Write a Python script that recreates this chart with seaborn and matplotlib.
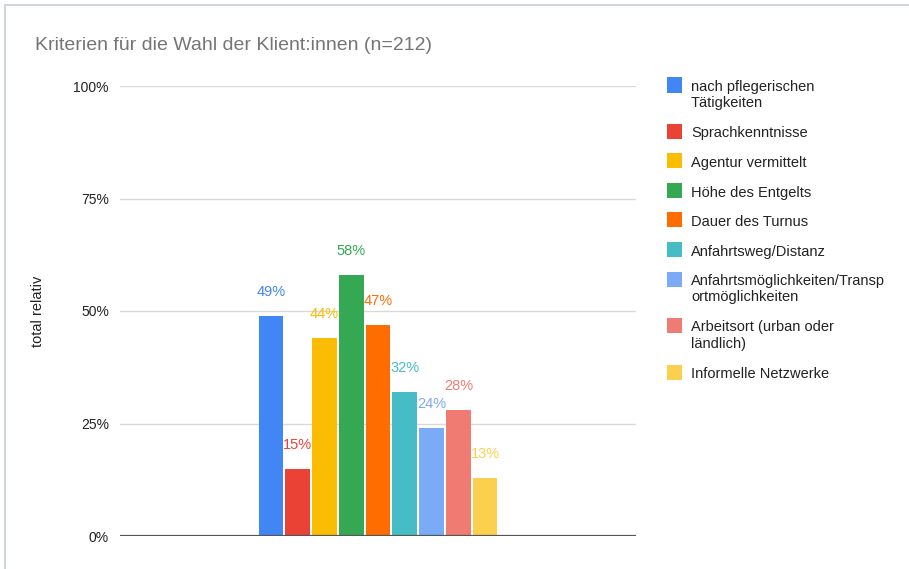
import matplotlib
matplotlib.use("Agg")
import matplotlib.pyplot as plt
import seaborn as sns
import pandas as pd
from matplotlib.patches import Rectangle

criteria = [
    "nach pflegerischen\nTätigkeiten",
    "Sprachkenntnisse",
    "Agentur vermittelt",
    "Höhe des Entgelts",
    "Dauer des Turnus",
    "Anfahrtsweg/Distanz",
    "Anfahrtsmöglichkeiten/Transp\nortmöglichkeiten",
    "Arbeitsort (urban oder\nländlich)",
    "Informelle Netzwerke",
]
shares = [0.49, 0.15, 0.44, 0.58, 0.47, 0.32, 0.24, 0.28, 0.13]
labels = ["49%", "15%", "44%", "58%", "47%", "32%", "24%", "28%", "13%"]
colors = ["#4285F4", "#EA4335", "#FBBC04", "#34A853", "#FF6D01",
          "#46BDC6", "#7BAAF7", "#F07B72", "#FCD04F"]
yticks = [0, 0.25, 0.5, 0.75, 1.0]
ytick_labels = ["0%", "25%", "50%", "75%", "100%"]

sns.set_theme(style="white")
plt.rcParams["font.family"] = ["Liberation Sans", "DejaVu Sans"]

df = pd.DataFrame({"group": [""] * len(criteria), "Kriterium": criteria, "Anteil": shares})

W, H = 909, 569
fig = plt.figure(figsize=(W / 100, H / 100), dpi=100)
ax = fig.add_axes([120 / W, 1 - 536 / H, 516 / W, 450 / H])

sns.barplot(data=df, x="group", y="Anteil", hue="Kriterium", hue_order=criteria,
            palette=colors, width=0.467, gap=0.08, ax=ax, legend=False,
            linewidth=0, saturation=1)

ax.set_xlim(-0.5, 0.5)
ax.set_ylim(0, 1.0)
ax.set_yticks(yticks)
ax.set_yticklabels(ytick_labels, fontsize=10, color="#222222")
ax.tick_params(axis="y", length=0, pad=8)
ax.set_xticks([])
ax.set_xlabel("")
ax.set_ylabel("total relativ", fontsize=10.5, color="#222222")
ax.yaxis.set_label_coords((45 - 120) / 516, 0.5)
for y in yticks[1:]:
    ax.axhline(y, color="#d9d9d9", lw=1.0, zorder=0)
ax.axhline(0, color="#555555", lw=1.6, zorder=3)
for s in ax.spines.values():
    s.set_visible(False)

# value labels above each bar, coloured like the bar
for cont, lab, col in zip(ax.containers, labels, colors):
    for bar in cont:
        ax.annotate(lab, (bar.get_x() + bar.get_width() / 2, bar.get_height()),
                    xytext=(0, 17), textcoords="offset points", ha="center",
                    va="center", color=col, fontsize=10.5)

# legend: square swatch aligned with the first line of each entry
y_px = 85
for name, col in zip(criteria, colors):
    fig.patches.append(Rectangle((667 / W, 1 - (y_px + 7.5) / H), 15 / W, 15 / H,
                                 transform=fig.transFigure, facecolor=col,
                                 edgecolor="none"))
    fig.text(691 / W, 1 - (y_px - 5) / H, name, fontsize=10.5, color="#222222",
             ha="left", va="top", linespacing=1.2)
    y_px += 29.5 + 17 * name.count("\n")

fig.text(35 / W, 1 - 46 / H, "Kriterien für die Wahl der Klient:innen (n=212)",
         fontsize=14, color="#757575", va="center", ha="left")

# card frame
fig.patches.append(Rectangle((5 / W, -0.1), 1.2, 1.1 - 5 / H,
                             transform=fig.transFigure, fill=False,
                             edgecolor="#cfd5d9", lw=1.5))

fig.savefig("out.png", dpi=100, facecolor="white")
